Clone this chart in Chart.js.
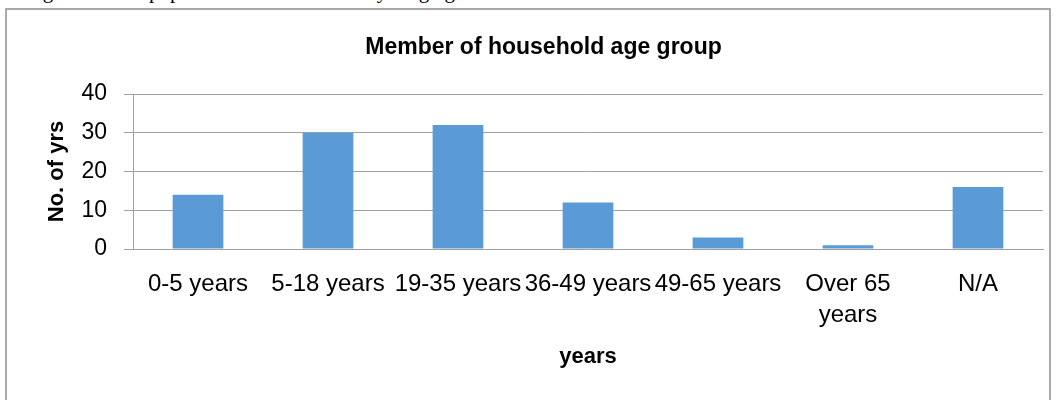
<!DOCTYPE html>
<html>
<head>
<meta charset="utf-8">
<script src="https://cdn.jsdelivr.net/npm/chart.js@4/dist/chart.umd.min.js"></script>
<style>
  html, body { margin: 0; padding: 0; background: #fff; }
  #page { position: relative; width: 1059px; height: 400px; overflow: hidden; background: #fff; }
  #lead {
    position: absolute; left: 17px; top: -21px; white-space: nowrap;
    font-family: "Liberation Serif", serif; font-size: 21px; line-height: 24px;
    word-spacing: 10px; color: #000;
  }
  #frame {
    position: absolute; left: 5px; top: 8px; width: 1046px; height: 420px;
    border: 2px solid #a9a9a9; box-sizing: border-box;
  }
  #wrap { position: absolute; left: 0; top: 0; width: 1059px; height: 400px; }
</style>
</head>
<body>
<div id="page">
  <div id="lead">neighborhood population is with the young generation.</div>
  <div id="frame"></div>
  <div id="wrap"><canvas id="c" width="1059" height="400"></canvas></div>
</div>
<script>
// Household members by age group
const categories = ['0-5 years', '5-18 years', '19-35 years', '36-49 years', '49-65 years', ['Over 65', 'years'], 'N/A'];
const members = [14, 30, 32, 12, 3, 1, 16];
const yTicks = [0, 10, 20, 30, 40];

const FONT = '"Liberation Sans", Arial, sans-serif';
const GRID = '#a0a0a0';

new Chart(document.getElementById('c'), {
  type: 'bar',
  data: {
    labels: categories,
    datasets: [{
      label: 'Members',
      data: members,
      backgroundColor: '#5b9bd5',
      borderWidth: 0,
      barPercentage: 0.39,
      categoryPercentage: 1.0
    }]
  },
  options: {
    responsive: false,
    animation: false,
    devicePixelRatio: 1,
    layout: { padding: { left: 44, right: 16, top: 0, bottom: 30 } },
    plugins: {
      legend: { display: false },
      tooltip: { enabled: false },
      title: {
        display: true,
        text: 'Member of household age group',
        color: '#000',
        font: { family: FONT, size: 23, weight: 'bold', lineHeight: 1.2 },
        padding: { top: 34, bottom: 32.4 }
      }
    },
    scales: {
      x: {
        grid: { display: false, drawTicks: false },
        border: { display: true, color: GRID, width: 1 },
        ticks: {
          color: '#000',
          autoSkip: false,
          maxRotation: 0,
          minRotation: 0,
          padding: 20,
          font: { family: FONT, size: 24, lineHeight: 1.3 }
        },
        title: {
          display: true,
          text: 'years',
          color: '#000',
          padding: 0,
          font: { family: FONT, size: 22, weight: 'bold', lineHeight: 1.2 }
        },
        afterFit: (scale) => { scale.height = 121; }
      },
      y: {
        min: 0,
        max: 40,
        afterBuildTicks: (scale) => { scale.ticks = yTicks.map(v => ({ value: v })); },
        grid: { color: GRID, lineWidth: 1, drawTicks: true, tickLength: 9, tickColor: GRID },
        border: { display: true, color: GRID, width: 1 },
        ticks: {
          color: '#000',
          padding: 17,
          font: { family: FONT, size: 23 }
        },
        title: {
          display: true,
          text: 'No. of yrs',
          color: '#000',
          padding: 0,
          font: { family: FONT, size: 22, weight: 'bold', lineHeight: 1.2 }
        },
        afterFit: (scale) => { scale.width = 89; }
      }
    }
  }
});
</script>
</body>
</html>
